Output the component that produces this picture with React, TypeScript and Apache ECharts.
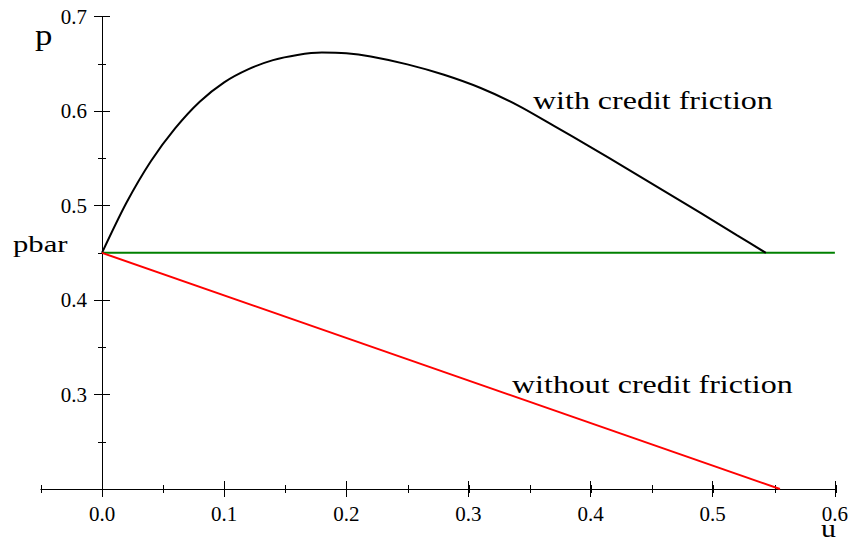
import React, { useEffect, useRef } from "react";
import * as echarts from "echarts";

// Data
const U_FRICTION = [0, 0.02, 0.04, 0.06, 0.08, 0.1, 0.12, 0.14, 0.16, 0.18, 0.2, 0.22, 0.25, 0.28, 0.31, 0.34, 0.37, 0.4, 0.43, 0.46, 0.49, 0.52, 0.5435];
const P_FRICTION = [0.45, 0.503, 0.547, 0.582, 0.61, 0.6305, 0.6445, 0.654, 0.6595, 0.662, 0.6612, 0.6578, 0.6495, 0.6385, 0.6245, 0.6065, 0.5845, 0.562, 0.539, 0.5157, 0.4923, 0.4685, 0.45];
const U_NO_FRICTION = [0, 0.555];
const P_NO_FRICTION = [0.45, 0.2];
const U_PBAR = [0, 0.6];
const P_PBAR = [0.45, 0.45];

const X_MIN = -0.05;
const X_MAX = 0.6;
const Y_MIN = 0.2;
const Y_MAX = 0.7;

const LABEL_WITH = "with credit friction";
const LABEL_WITHOUT = "without credit friction";
const LABEL_PBAR = "pbar";
const AXIS_NAME_Y = "p";
const AXIS_NAME_X = "u";

const SERIF = "'Liberation Serif', 'Times New Roman', serif";

const zip = (xs: number[], ys: number[]) => xs.map((x, i) => [x, ys[i]]);

export default function App() {
  const ref = useRef<HTMLDivElement>(null);

  useEffect(() => {
    if (!ref.current) return;
    const chart = echarts.init(ref.current, null, { renderer: "svg" });

    const top = 16.7;
    const bottom = 53;
    const right = 15;
    const zeroLeft = 102;
    const plotRight = 851 - right;
    const leftA = zeroLeft - ((0 - X_MIN) * (plotRight - zeroLeft)) / X_MAX;

    const axisLine = { show: true, onZero: false, lineStyle: { color: "#000", width: 1 } };
    const tickStyle = { color: "#000", width: 1 };
    const labelStyle = { fontFamily: SERIF, fontSize: 21, color: "#000" };

    const txt = (text: string, x: number, baseline: number, size: number, sx: number) => ({
      type: "text",
      x,
      y: baseline - 0.34 * size,
      scaleX: sx,
      silent: true,
      style: {
        text,
        font: `${size}px ${SERIF}`,
        fill: "#000",
        align: "left",
        verticalAlign: "middle",
        textAlign: "left",
        textVerticalAlign: "middle",
      },
    });

    chart.setOption({
      animation: false,
      backgroundColor: "#fff",
      grid: [
        { left: leftA, right, top, bottom, containLabel: false },
        { left: zeroLeft, right, top, bottom, containLabel: false },
      ],
      xAxis: [
        {
          type: "value", gridIndex: 0, position: "bottom", min: X_MIN, max: X_MAX, interval: 0.05,
          axisLine, axisTick: { show: true, length: 4, lineStyle: tickStyle },
          axisLabel: { show: false }, splitLine: { show: false },
        },
        {
          type: "value", gridIndex: 0, position: "bottom", min: X_MIN, max: X_MAX, interval: 0.05,
          axisLine: { show: false, onZero: false }, axisTick: { show: true, inside: true, length: 4, lineStyle: tickStyle },
          axisLabel: { show: false }, splitLine: { show: false },
        },
        {
          type: "value", gridIndex: 1, position: "bottom", min: 0, max: X_MAX, interval: 0.1,
          axisLine: { show: false, onZero: false }, axisTick: { show: true, length: 8, lineStyle: tickStyle },
          axisLabel: { show: true, margin: 14, ...labelStyle, formatter: (v: number) => v.toFixed(1) },
          splitLine: { show: false },
        },
        {
          type: "value", gridIndex: 1, position: "bottom", min: 0, max: X_MAX, interval: 0.1,
          axisLine: { show: false, onZero: false }, axisTick: { show: true, inside: true, length: 8, lineStyle: tickStyle },
          axisLabel: { show: false }, splitLine: { show: false },
        },
      ],
      yAxis: [
        {
          type: "value", gridIndex: 0, min: 0, max: 1, show: false,
          axisLine: { show: false, onZero: false }, splitLine: { show: false },
        },
        {
          type: "value", gridIndex: 1, position: "left", min: Y_MIN, max: Y_MAX, interval: 0.1,
          axisLine, axisTick: { show: true, length: 8, lineStyle: tickStyle },
          minorTick: { show: true, splitNumber: 2, length: 4, lineStyle: tickStyle },
          axisLabel: {
            show: true, margin: 15, padding: [6, 0, 0, 0], showMinLabel: false, ...labelStyle,
            formatter: (v: number) => v.toFixed(1),
          },
          splitLine: { show: false }, minorSplitLine: { show: false },
        },
        {
          type: "value", gridIndex: 1, position: "left", min: Y_MIN, max: Y_MAX, interval: 0.1,
          axisLine: { show: false, onZero: false }, axisTick: { show: true, inside: true, length: 8, lineStyle: tickStyle },
          minorTick: { show: true, splitNumber: 2, length: 4, lineStyle: tickStyle },
          axisLabel: { show: false }, splitLine: { show: false }, minorSplitLine: { show: false },
        },
      ],
      series: [
        {
          name: "pbar", type: "line", xAxisIndex: 2, yAxisIndex: 1,
          data: zip(U_PBAR, P_PBAR), symbol: "none", clip: false,
          lineStyle: { color: "#008000", width: 2 },
        },
        {
          name: "with credit friction", type: "line", xAxisIndex: 2, yAxisIndex: 1,
          data: zip(U_FRICTION, P_FRICTION), symbol: "none", smooth: 0.3, clip: false,
          lineStyle: { color: "#000", width: 2 },
        },
        {
          name: "without credit friction", type: "line", xAxisIndex: 2, yAxisIndex: 1,
          data: zip(U_NO_FRICTION, P_NO_FRICTION), symbol: "none", clip: false,
          lineStyle: { color: "#ff0000", width: 2 },
        },
      ],
      graphic: [
        txt(LABEL_WITH, 533, 109, 25, 1.28),
        txt(LABEL_WITHOUT, 512, 393, 25, 1.28),
        txt(LABEL_PBAR, 13, 252, 24, 1.28),
        txt(AXIS_NAME_Y, 35, 45, 29, 1.2),
        txt(AXIS_NAME_X, 821, 537, 26, 1.15),
      ],
    });

    return () => chart.dispose();
  }, []);

  return (
    <div
      ref={ref}
      style={{ position: "absolute", left: 0, top: 0, width: 851, height: 542, background: "#fff" }}
    />
  );
}
